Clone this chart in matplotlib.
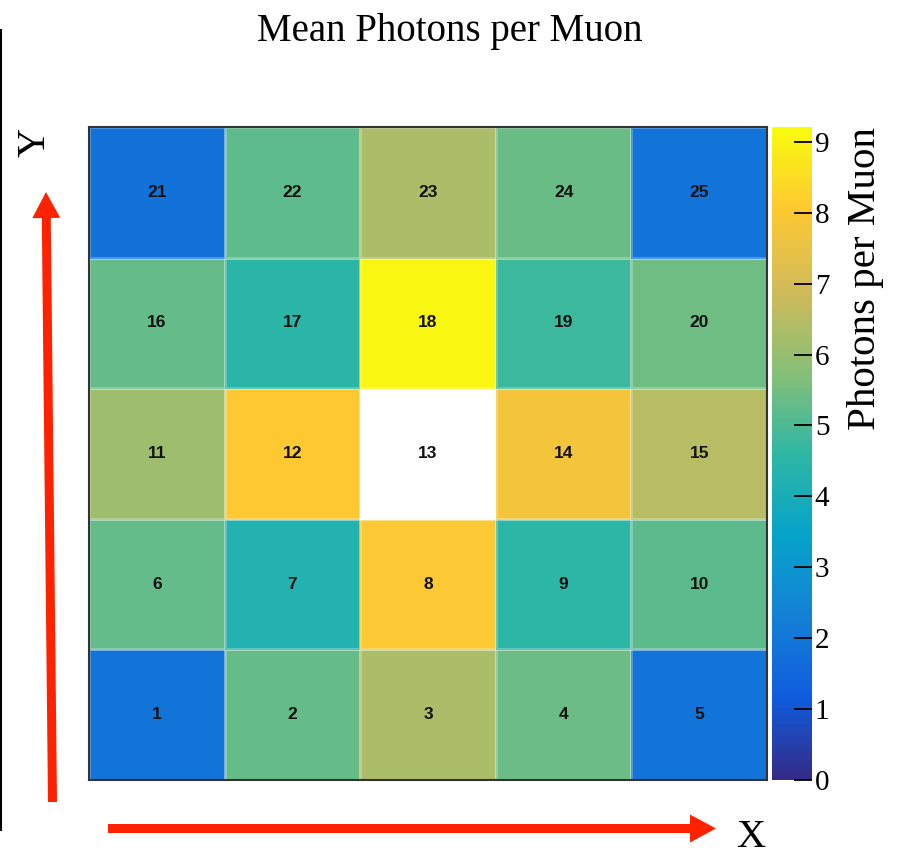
import numpy as np
import matplotlib.pyplot as plt
from matplotlib.colors import LinearSegmentedColormap
from matplotlib.patches import FancyArrow

# Mean photons per muon for each channel, bottom row first
row_1_5 = [1.90, 5.31, 6.29, 5.41, 1.90]
row_6_10 = [5.30, 4.28, 8.00, 4.55, 5.17]
row_11_15 = [6.14, 8.05, 10.2, 7.77, 6.53]
row_16_20 = [5.33, 4.49, 9.10, 4.78, 5.45]
row_21_25 = [1.85, 5.23, 6.30, 5.37, 1.88]
channels = [[1, 2, 3, 4, 5],
            [6, 7, 8, 9, 10],
            [11, 12, 13, 14, 15],
            [16, 17, 18, 19, 20],
            [21, 22, 23, 24, 25]]
z_max = 9.21
cbar_ticks = list(range(10))

photons = np.array([row_1_5, row_6_10, row_11_15, row_16_20, row_21_25])

# ROOT kBird palette
stops = [0.0, 0.125, 0.25, 0.375, 0.5, 0.625, 0.75, 0.875, 1.0]
red = [0.2082, 0.0592, 0.0780, 0.0232, 0.1802, 0.5301, 0.8186, 0.9956, 0.9764]
green = [0.1664, 0.3599, 0.5041, 0.6419, 0.7178, 0.7492, 0.7328, 0.7862, 0.9832]
blue = [0.5293, 0.8684, 0.8385, 0.7914, 0.6425, 0.4662, 0.3499, 0.1968, 0.0539]
bird = LinearSegmentedColormap.from_list('bird', list(zip(stops, zip(red, green, blue))), N=255)
bird.set_over('white')

serif = 'Liberation Serif'
W, H = 901, 855
fig = plt.figure(figsize=(W / 100, H / 100), dpi=100)


def box(left, top, right, bottom):
    return [left / W, 1 - bottom / H, (right - left) / W, (bottom - top) / H]


ax = fig.add_axes(box(89, 127, 767, 780))
cax = fig.add_axes(box(772, 127, 812, 780))

edges = np.arange(photons.shape[1] + 1)
mesh = ax.pcolormesh(edges, edges, photons, cmap=bird, vmin=0, vmax=z_max,
                     edgecolors=(1, 1, 1, 0.25), linewidth=1)
ax.set_xticks([])
ax.set_yticks([])
for s in ax.spines.values():
    s.set_color('#333333')
    s.set_linewidth(1.5)

for i in range(5):
    for j in range(5):
        ax.text(j + 0.5, i + 0.5, str(channels[i][j]), ha='center', va='center',
                fontsize=12.5, fontweight='bold', family='Liberation Sans', color='#111111')

cb = fig.colorbar(mesh, cax=cax, ticks=cbar_ticks)
cb.outline.set_visible(False)
cax.tick_params(direction='in', length=13, width=1.3, color='black',
                labelsize=21, pad=2)
for lab in cax.get_yticklabels():
    lab.set_family(serif)

# overlay in pixel coordinates for title, axis letters and arrows
over = fig.add_axes([0, 0, 1, 1])
over.set_xlim(0, W)
over.set_ylim(H, 0)
over.axis('off')

over.text(450, 41, 'Mean Photons per Muon', ha='center', va='baseline',
          fontsize=28, family=serif)
over.text(866, 127, 'Photons per Muon', rotation=90, ha='center', va='top',
          fontsize=29.5, family=serif)
over.text(751, 847, 'X', ha='center', va='baseline', fontsize=29, family=serif)
over.text(35, 142, 'Y', rotation=90, ha='center', va='center', fontsize=29, family=serif)

over.plot([1, 1], [30, 830], color='black', lw=1.5)
arrow_kw = dict(width=9, head_width=28, head_length=26, length_includes_head=True,
                color='#ff2200', lw=0)
over.add_patch(FancyArrow(52.5, 802, -6.5, -610, **arrow_kw))
over.add_patch(FancyArrow(108, 828.5, 608, 0, **arrow_kw))

fig.savefig('out.png', dpi=100)
